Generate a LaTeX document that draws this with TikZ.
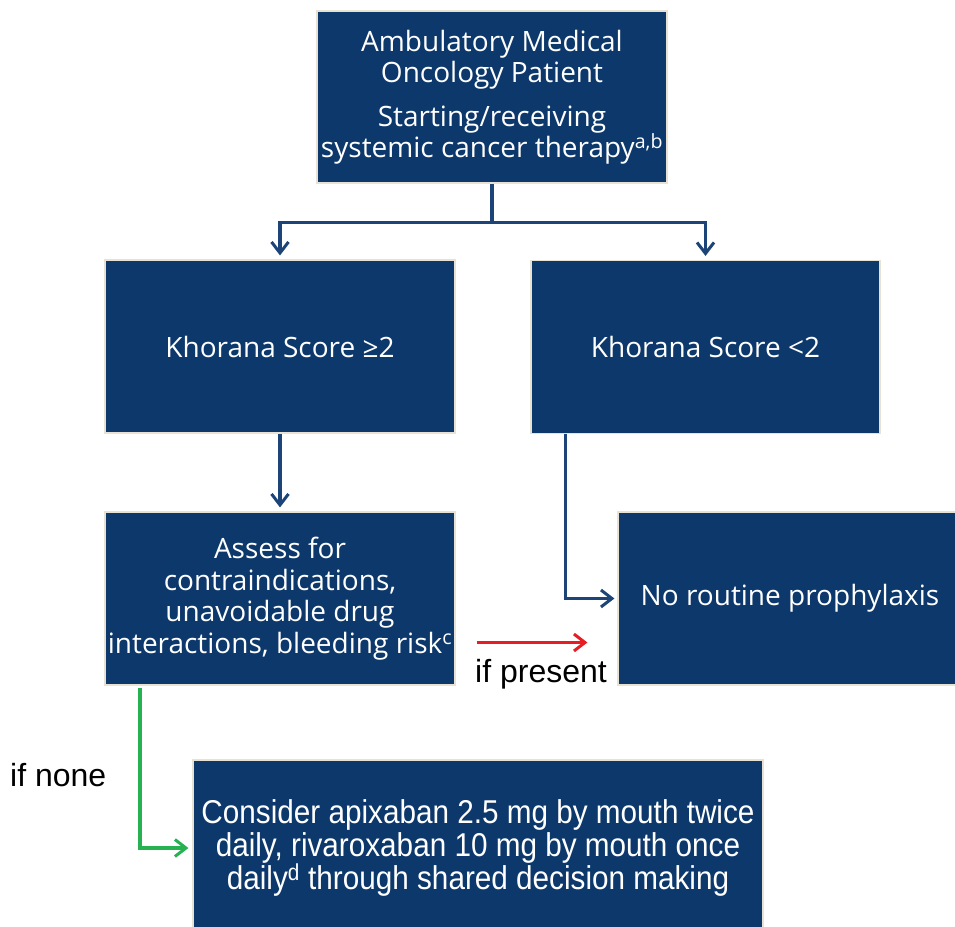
\documentclass[tikz,border=0pt]{standalone}
\usepackage{fontspec}
\setmainfont{Open Sans}
\newfontfamily\labelfont{Liberation Sans}
\newfontfamily\narrowfont[FakeStretch=0.9]{Liberation Sans}
\usetikzlibrary{arrows.meta,calc}
\definecolor{boxblue}{RGB}{13,56,107}
\definecolor{lineblue}{RGB}{28,68,120}
\definecolor{boxedge}{RGB}{232,226,212}
\definecolor{arrred}{RGB}{232,28,36}
\definecolor{arrgreen}{RGB}{38,178,80}
\begin{document}
\begin{tikzpicture}[x=1pt,y=-1pt,
  box/.style={fill=boxblue,draw=boxedge,line width=1.2pt,text=white,align=center,inner sep=0pt,
    minimum width=350pt,minimum height=173pt,font=\fontsize{28}{31.5}\selectfont},
  tipv/.style={-{Straight Barb[length=11pt,width=17pt,line width=3pt]}},
  conn/.style={draw=lineblue,line width=3.2pt,tipv},
  redarr/.style={draw=arrred,line width=3.2pt,tipv},
  greenarr/.style={draw=arrgreen,line width=3.2pt,tipv},
  lbl/.style={font=\labelfont\fontsize{32}{36}\selectfont,inner sep=0pt}]
\fill[white] (0,0) rectangle (955,926);
\useasboundingbox (0,0) rectangle (955,926);
\node[box,minimum height=172pt] (top) at (492,97) {Ambulatory Medical\\Oncology Patient\\[12pt]Starting/receiving\\systemic cancer therapy\textsuperscript{a,b}};
\node[box] (k2) at (280,346.5) {Khorana Score ≥2};
\node[box,minimum width=349pt] (kl) at (705.5,347) {Khorana Score <2};
\node[box] (assess) at (280,598.5) {Assess for\\contraindications,\\unavoidable drug\\interactions, bleeding risk\textsuperscript{c}};
\node[box,minimum width=344pt] (norout) at (790,598.5) {No routine prophylaxis};
\node[box,minimum width=570pt,minimum height=176pt,font=\narrowfont\fontsize{33}{33}\selectfont] (consider) at (478,848) {Consider apixaban 2.5 mg by mouth twice\\daily, rivaroxaban 10 mg by mouth once\\daily\textsuperscript{d} through shared decision making};
% connectors
\draw[draw=lineblue,line width=3.2pt] (top.south) -- ($(top.south)+(0,39)$) coordinate (split);
\draw[conn,shorten >=4pt] (split) -| (k2.north);
\draw[conn,shorten >=4pt] (split) -| (kl.north);
\draw[conn,shorten >=4pt] (k2.south) -- (assess.north);
\draw[conn,shorten >=3pt] ($(kl.south)+(-140,0)$) |- (norout.west);
\draw[redarr] ($(assess.east)+(21,44)$) -- ($(norout.west)+(-30,44)$);
\node[lbl,anchor=base] (ifp) at (541,682) {if present};
\draw[greenarr,shorten >=4pt] ($(assess.south)+(-140,2)$) |- (consider.west);
\node[lbl,anchor=base west] (ifn) at (10,786) {if none};
\end{tikzpicture}
\end{document}
